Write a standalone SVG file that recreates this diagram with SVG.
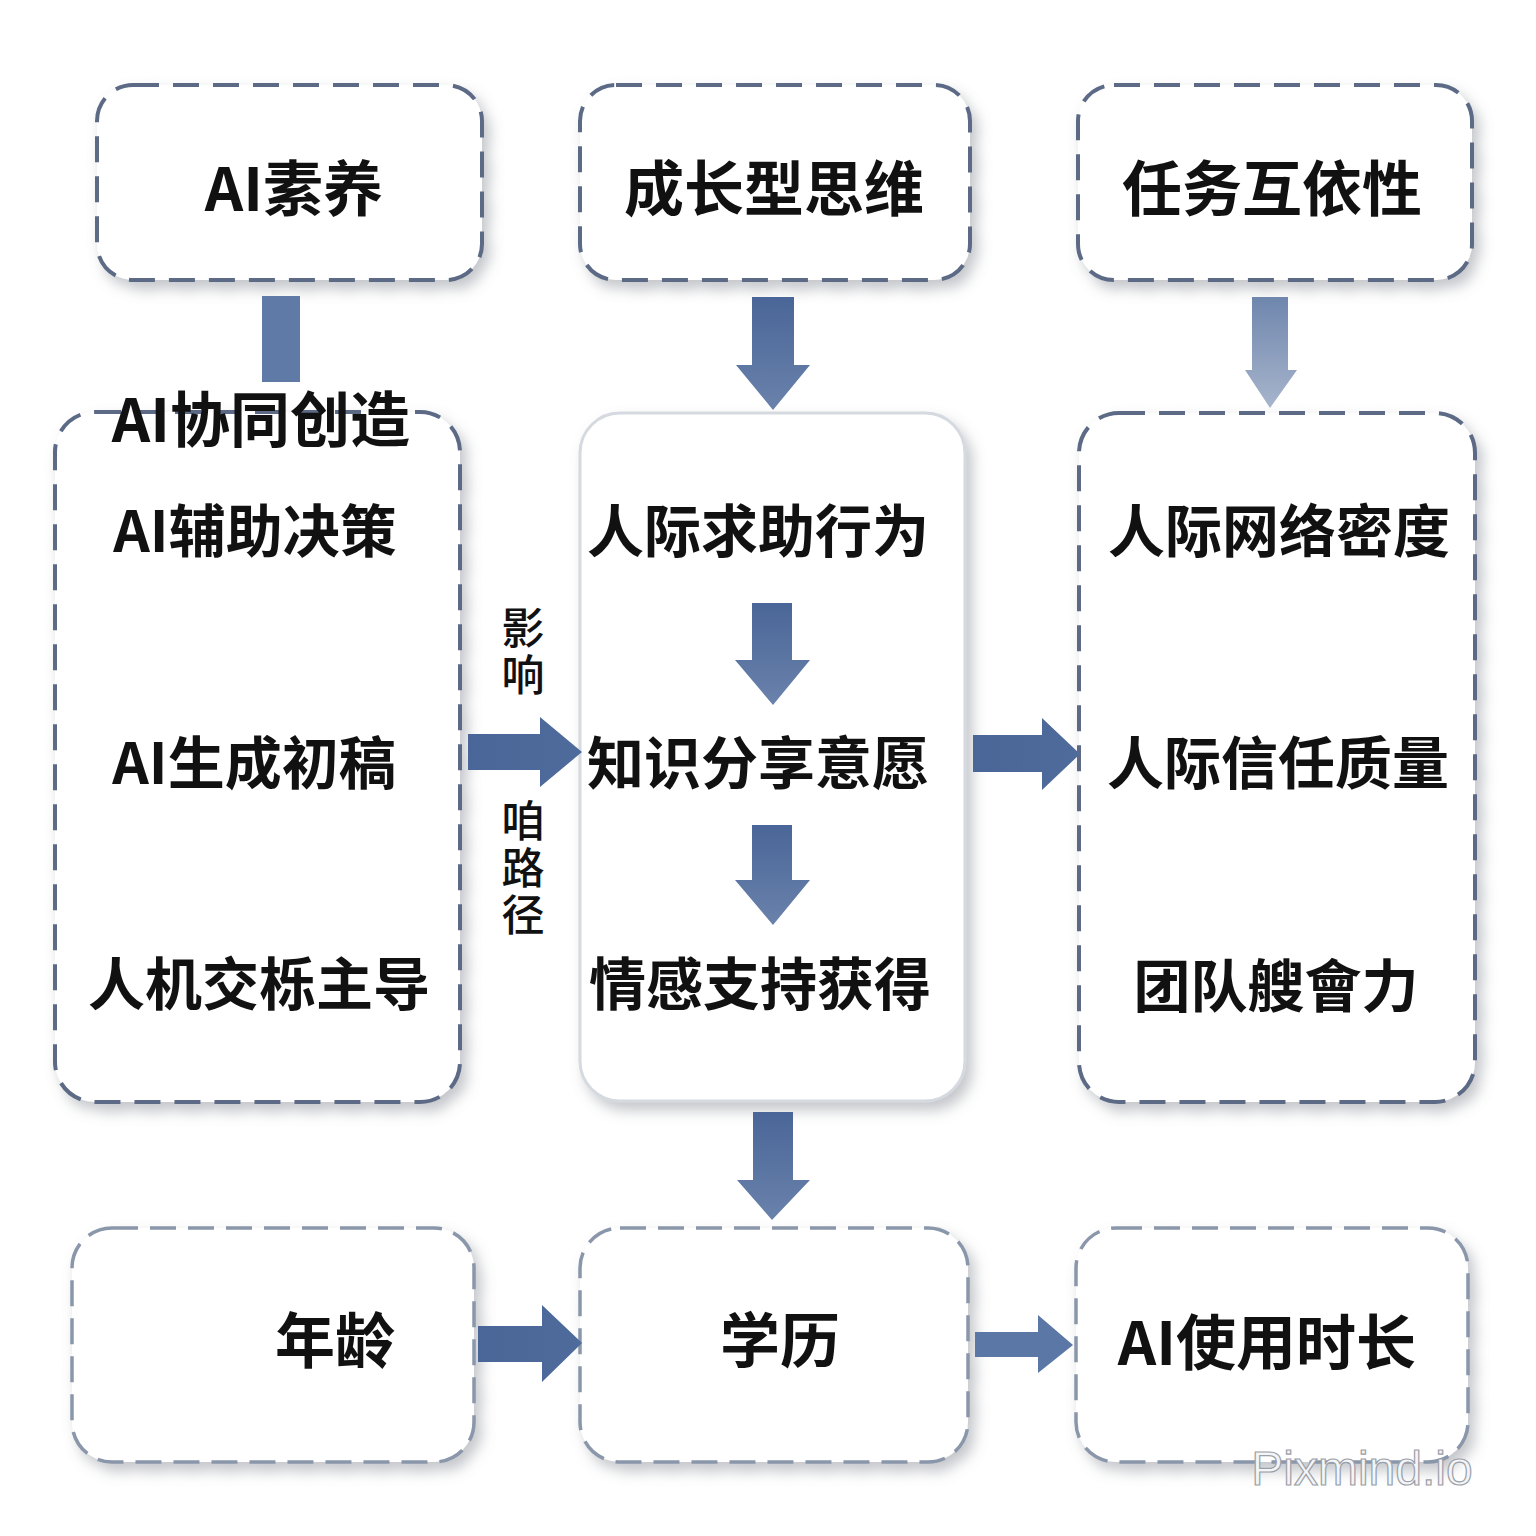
<svg xmlns="http://www.w3.org/2000/svg" width="1536" height="1536" viewBox="0 0 1536 1536">
<defs>
<filter id="sh" x="-10%" y="-10%" width="125%" height="125%">
<feDropShadow dx="6" dy="8" stdDeviation="7" flood-color="#7a808a" flood-opacity="0.45"/>
</filter>
<linearGradient id="ag" x1="0" y1="0" x2="0" y2="1">
<stop offset="0" stop-color="#4a6698"/>
<stop offset="1" stop-color="#6a82ab"/>
</linearGradient>
<linearGradient id="ag2" x1="0" y1="0" x2="0" y2="1">
<stop offset="0" stop-color="#6f86ad"/>
<stop offset="1" stop-color="#a7b5cc"/>
</linearGradient>
<linearGradient id="ah" x1="0" y1="0" x2="1" y2="0">
<stop offset="0" stop-color="#4a6698"/>
<stop offset="1" stop-color="#4f6b9c"/>
</linearGradient>
</defs>
<style>
.box{fill:#ffffff;stroke:#5b6a86;stroke-width:4;stroke-dasharray:26 14;filter:url(#sh)}
.boxl{fill:#ffffff;stroke:#8a96aa;stroke-width:3.5;stroke-dasharray:26 12;filter:url(#sh)}
.solid{fill:#ffffff;stroke:#d5d9e0;stroke-width:3;filter:url(#sh)}
.t{font-family:"Noto Sans CJK SC","Noto Sans",sans-serif;font-weight:700;fill:#111111;text-anchor:middle;dominant-baseline:central}
.big{font-size:60px}
.mid{font-size:57px}
.v{font-family:"Noto Sans CJK SC","Noto Sans",sans-serif;font-size:43px;font-weight:500;fill:#111111;writing-mode:vertical-rl;text-anchor:start;letter-spacing:4px}
.arr{fill:url(#ag)}
.arr2{fill:url(#ag2)}
.wm{font-family:"Liberation Sans","DejaVu Sans",sans-serif;font-size:48px;fill:#f4f5f7;stroke:#9aa0a8;stroke-width:1.2;text-anchor:middle}
</style>
<rect width="1536" height="1536" fill="#ffffff"/>

<g id="node-ai-literacy">
<rect class="box" x="97" y="85" width="385" height="195" rx="36"/>
<text class="t big" x="294" y="184">AI素养</text>
</g>
<g id="node-growth-mindset">
<rect class="box" x="580" y="85" width="390" height="195" rx="36"/>
<text class="t big" x="774" y="184">成长型思维</text>
</g>
<g id="node-task-interdependence">
<rect class="box" x="1078" y="85" width="394" height="195" rx="36"/>
<text class="t big" x="1272" y="184">任务互依性</text>
</g>

<g id="node-ai-usage">
<rect class="box" x="55" y="412" width="405" height="690" rx="40"/>
<text class="t mid" x="255" y="527">AI辅助决策</text>
<text class="t mid" x="254" y="759">AI生成初稿</text>
<text class="t mid" x="259" y="980">人机交栎主导</text>
</g>
<g id="node-mediators">
<rect class="solid" x="580" y="413" width="385" height="688" rx="40"/>
<text class="t mid" x="758" y="527">人际求助行为</text>
<text class="t mid" x="758" y="759">知识分享意愿</text>
<text class="t mid" x="760" y="980">情感支持获得</text>
</g>
<g id="node-outcomes">
<rect class="box" x="1079" y="413" width="396" height="689" rx="40"/>
<text class="t mid" x="1279" y="527">人际网络密度</text>
<text class="t mid" x="1278" y="759">人际信任质量</text>
<text class="t mid" x="1276" y="982">团队艘會力</text>
</g>

<g id="node-age">
<rect class="boxl" x="72" y="1228" width="402" height="234" rx="40"/>
<text class="t big" x="335" y="1336">年龄</text>
</g>
<g id="node-education">
<rect class="boxl" x="580" y="1228" width="388" height="234" rx="40"/>
<text class="t big" x="780" y="1336">学历</text>
</g>
<g id="node-ai-time">
<rect class="boxl" x="1076" y="1228" width="392" height="234" rx="40"/>
<text class="t big" x="1267" y="1338">AI使用时长</text>
</g>

<g id="connectors">
<rect x="262" y="296" width="38" height="86" fill="#5f7aa6"/>
<path class="arr" d="M752,297 H794 V365 H810 L773,410 L736,365 H752 Z"/>
<path class="arr2" d="M1252,297 H1288 V370 H1297 L1270,408 L1245,370 H1252 Z"/>
<path class="arr" d="M752,603 H792 V660 H810 L773,705 L735,660 H752 Z"/>
<path class="arr" d="M752,825 H792 V880 H810 L773,925 L735,880 H752 Z"/>
<path class="arr" d="M753,1112 H793 V1180 H810 L772,1220 L737,1180 H753 Z"/>
<path fill="url(#ah)" d="M468,734 H540 V717 L582,752 L540,787 V770 H468 Z"/>
<path fill="url(#ah)" d="M973,735 H1042 V718 L1080,754 L1042,790 V772 H973 Z"/>
<path fill="url(#ah)" d="M478,1326 H542 V1305 L582,1343 L542,1382 V1362 H478 Z"/>
<path fill="#5b77a5" d="M975,1332 H1038 V1315 L1073,1345 L1038,1373 V1357 H975 Z"/>
</g>

<g id="labels">
<text class="t big" x="261" y="415">AI协同创造</text>
<text class="v" x="523" y="606">影响</text>
<text class="v" x="523" y="799">咱路径</text>
<text class="wm" x="1362" y="1485">Pixmind.io</text>
</g>
</svg>
